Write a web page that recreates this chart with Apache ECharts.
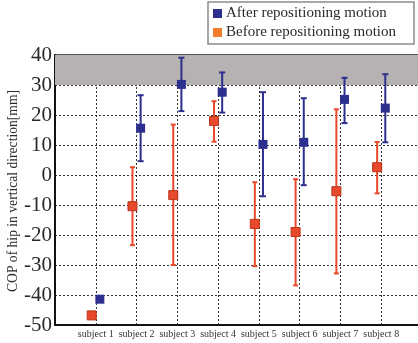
<!DOCTYPE html>
<html>
<head>
<meta charset="utf-8">
<script src="https://cdn.jsdelivr.net/npm/echarts@6/dist/echarts.min.js"></script>
<style>
  html, body { margin: 0; padding: 0; background: #fff; }
  #chart { width: 418px; height: 343px; }
</style>
</head>
<body>
<div id="chart"></div>
<script>
// Hip centre-of-pressure (vertical) per subject, before / after repositioning
var subjects = ['subject 1', 'subject 2', 'subject 3', 'subject 4',
                'subject 5', 'subject 6', 'subject 7', 'subject 8'];

var afterMean = [-41.4, 15.6, 30.2, 27.6, 10.2, 10.9, 25.2, 22.3];
var afterLow  = [null, 4.6, 21.3, 20.8, -7.1, -3.4, 17.3, 10.9];
var afterHigh = [null, 26.6, 39.1, 34.2, 27.6, 25.6, 32.4, 33.6];

var beforeMean = [-46.8, -10.4, -6.7, 18.0, -16.3, -19.0, -5.4, 2.6];
var beforeLow  = [null, -23.4, -30.0, 11.1, -30.4, -36.8, -32.8, -6.1];
var beforeHigh = [null, 2.6, 16.8, 24.6, -2.4, -1.4, 21.9, 11.0];

var yTicks = [-50, -40, -30, -20, -10, 0, 10, 20, 30, 40];
var targetBand = [30, 40];

var AFTER_NAME = 'After repositioning motion';
var BEFORE_NAME = 'Before repositioning motion';
var BLUE = '#2c2f8e';
var RED = '#e8482c';

// horizontal shift so the two groups sit side by side around each subject
var SHIFT = 0.1;

function points(means, dx) {
  return means.map(function (v, i) { return [i + 1 + dx, v]; });
}
function bars(lows, highs, dx) {
  var out = [];
  lows.forEach(function (lo, i) {
    if (lo !== null && highs[i] !== null) out.push([i + 1 + dx, lo, highs[i]]);
  });
  return out;
}

function errorBarRenderer(color, capHalf) {
  return function (params, api) {
    var x = api.value(0);
    var lo = api.coord([x, api.value(1)]);
    var hi = api.coord([x, api.value(2)]);
    var style = { stroke: color, lineWidth: 2 };
    return {
      type: 'group',
      children: [
        { type: 'line', shape: { x1: lo[0], y1: lo[1], x2: hi[0], y2: hi[1] }, style: style },
        { type: 'line', shape: { x1: hi[0] - capHalf, y1: hi[1], x2: hi[0] + capHalf, y2: hi[1] }, style: style },
        { type: 'line', shape: { x1: lo[0] - capHalf, y1: lo[1], x2: lo[0] + capHalf, y2: lo[1] }, style: style }
      ]
    };
  };
}

var serif = '"Liberation Serif", "DejaVu Serif", serif';
var chart = echarts.init(document.getElementById('chart'), null, { renderer: 'canvas' });

chart.setOption({
  animation: false,
  grid: {
    // the plot box runs slightly past the right edge of the canvas
    left: 55, top: 55, width: 367, height: 270,
    outerBoundsMode: 'none',
    containLabel: false,
    show: true, borderColor: '#222', borderWidth: 1.5, backgroundColor: 'transparent'
  },
  legend: {
    orient: 'vertical',
    left: 208, top: 2,
    padding: [4, 18, 4, 5],
    itemGap: 4,
    itemWidth: 9, itemHeight: 9,
    icon: 'rect',
    borderColor: '#8a8a8a', borderWidth: 1.5,
    backgroundColor: '#fff',
    textStyle: { fontFamily: serif, fontSize: 15, color: '#2a2a2a', lineHeight: 15, padding: [0, 0, 0, -1] },
    data: [
      { name: AFTER_NAME, itemStyle: { color: BLUE, borderWidth: 0 } },
      { name: BEFORE_NAME, itemStyle: { color: '#f27d2a', borderWidth: 0 } }
    ]
  },
  xAxis: {
    type: 'value', min: 0, max: 9, interval: 1,
    axisLine: { show: true, onZero: false, lineStyle: { color: '#111', width: 2 } },
    axisTick: { show: false },
    splitLine: { show: true, lineStyle: { color: '#333', width: 1, type: [2, 2] } },
    axisLabel: {
      margin: 4,
      fontFamily: serif, fontSize: 10, color: '#333',
      formatter: function (v) { return subjects[v - 1] || ''; }
    }
  },
  yAxis: {
    type: 'value', min: yTicks[0], max: yTicks[yTicks.length - 1], interval: 10,
    axisLine: { show: true, onZero: false, lineStyle: { color: '#111', width: 2 } },
    axisTick: { show: false },
    splitLine: { show: true, lineStyle: { color: '#333', width: 1, type: [2, 2] } },
    axisLabel: { margin: 3, fontFamily: serif, fontSize: 21, color: '#2a2a2a' }
  },
  graphic: [{
    type: 'text',
    x: 13, y: 191,
    rotation: Math.PI / 2,
    style: {
      text: 'COP of hip in vertical direction[mm]',
      fontFamily: serif, fontSize: 13.6, fill: '#2a2a2a',
      align: 'center', verticalAlign: 'middle'
    }
  }],
  series: [
    {
      // shaded target range behind the grid lines
      type: 'line', data: [], z: -1, silent: true,
      markArea: {
        silent: true,
        itemStyle: { color: '#b7b2b2' },
        data: [[{ yAxis: targetBand[0] }, { yAxis: targetBand[1] }]]
      }
    },
    {
      type: 'custom', name: BEFORE_NAME, z: 3,
      renderItem: errorBarRenderer(RED, 2.5),
      data: bars(beforeLow, beforeHigh, -SHIFT),
      encode: { x: 0, y: [1, 2] }
    },
    {
      type: 'scatter', name: BEFORE_NAME, z: 4,
      symbol: 'rect', symbolSize: 9,
      itemStyle: { color: RED, borderColor: '#b8361c', borderWidth: 1, opacity: 1 },
      data: points(beforeMean, -SHIFT)
    },
    {
      type: 'custom', name: AFTER_NAME, z: 3,
      renderItem: errorBarRenderer(BLUE, 3),
      data: bars(afterLow, afterHigh, SHIFT),
      encode: { x: 0, y: [1, 2] }
    },
    {
      type: 'scatter', name: AFTER_NAME, z: 4,
      symbol: 'rect', symbolSize: 9,
      itemStyle: { color: BLUE, opacity: 1 },
      data: points(afterMean, SHIFT)
    }
  ]
});
</script>
</body>
</html>
